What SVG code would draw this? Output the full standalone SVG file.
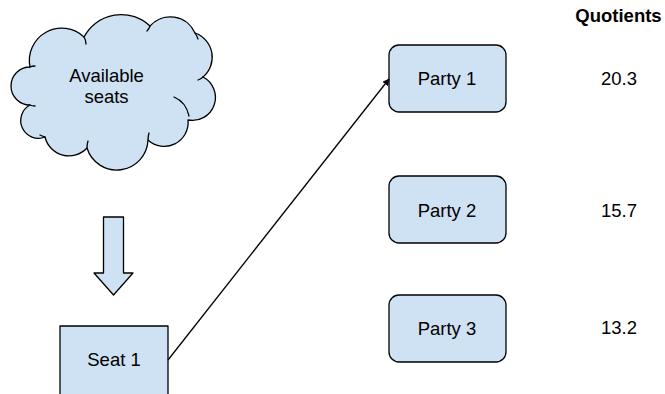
<svg xmlns="http://www.w3.org/2000/svg" width="665" height="394" viewBox="0 0 665 394">
<style>
.shape{fill:#cfe2f3;stroke:#000;stroke-width:1.3;stroke-linejoin:round}
.curl{fill:none;stroke:#000;stroke-width:1.3;stroke-linecap:round}
text{font-family:"Liberation Sans",Arial,sans-serif;font-size:18.5px;fill:#000;text-anchor:middle}
.b{font-weight:bold}
.conn{fill:none;stroke:#000;stroke-width:1.3}
</style>
<defs>
<marker id="ah" viewBox="0 0 10 10" refX="9" refY="5" markerWidth="7" markerHeight="7" markerUnits="userSpaceOnUse" orient="auto">
<path d="M0,0 L10,5 L0,10 z" fill="#000"/>
</marker>
</defs>
<rect width="665" height="394" fill="#fff"/>
<g id="cloud">
<path class="shape" d="M30,67 A32.4,32.4 0 0 1 84,37 A42,42 0 0 1 150,26 A27,27 0 0 1 195,33 A25.7,25.7 0 0 1 203,77 A23,23 0 0 1 188,120 A23.9,23.9 0 0 1 148,140 A31.2,31.2 0 0 1 87,148 A24.6,24.6 0 0 1 45,137 A17.7,17.7 0 0 1 30,105 A19,19 0 0 1 30,67 Z"/>
<path class="curl" d="M84,37 Q86,40 86,44"/>
<path class="curl" d="M150,26 Q149,29 147,31"/>
<path class="curl" d="M195,33 Q197,36 198,39"/>
<path class="curl" d="M203,77 Q201,79 198,80"/>
<path class="curl" d="M174,97 Q186,102 189,116"/>
<path class="curl" d="M148,140 Q148,136 149,133"/>
<path class="curl" d="M87,148 Q87,144 88,141"/>
<path class="curl" d="M45,137 Q42,136 40,135"/>
<path class="curl" d="M30,105 Q32,106 35,106"/>
<path class="curl" d="M30,67 Q32,66 35,66"/>
<text x="106.5" y="82">Available</text>
<text x="106.5" y="103">seats</text>
</g>
<g id="down-arrow">
<polygon class="shape" points="103.5,217 123.5,217 123.5,273 133,273 113.5,295 94,273 103.5,273"/>
</g>
<g id="seat1">
<rect class="shape" x="60" y="326" width="108" height="80"/>
<text x="114" y="366">Seat 1</text>
</g>
<g id="party1">
<rect class="shape" x="389" y="45" width="117" height="67" rx="10"/>
<text x="447" y="85">Party 1</text>
</g>
<g id="party2">
<rect class="shape" x="389" y="176" width="117" height="67" rx="10"/>
<text x="447" y="217">Party 2</text>
</g>
<g id="party3">
<rect class="shape" x="389" y="295" width="117" height="67" rx="10"/>
<text x="447" y="335">Party 3</text>
</g>
<g id="quotients">
<text class="b" x="618.5" y="22">Quotients</text>
<text x="619" y="85">20.3</text>
<text x="619" y="217">15.7</text>
<text x="619" y="334">13.2</text>
</g>
<g id="connectors">
<line class="conn" x1="168" y1="360" x2="389" y2="79" marker-end="url(#ah)"/>
</g>
</svg>
